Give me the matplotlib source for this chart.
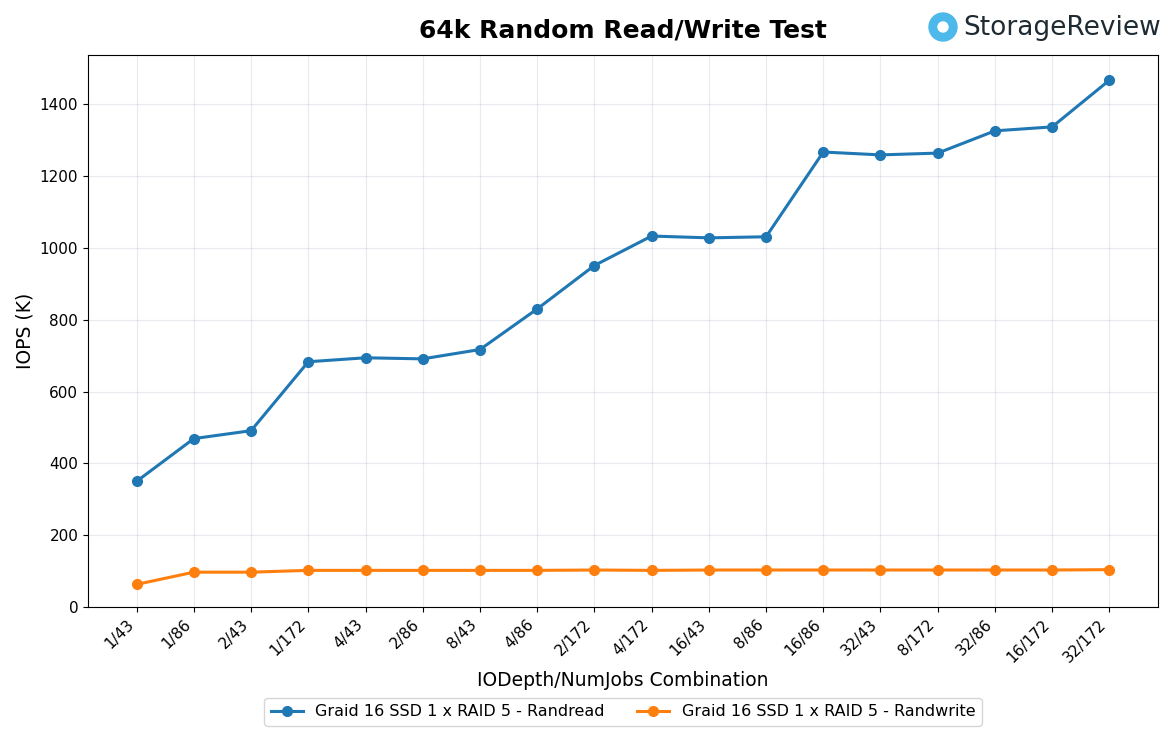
import matplotlib.pyplot as plt
from matplotlib.patches import Circle

combos = ["1/43", "1/86", "2/43", "1/172", "4/43", "2/86", "8/43", "4/86", "2/172",
          "4/172", "16/43", "8/86", "16/86", "32/43", "8/172", "32/86", "16/172", "32/172"]
randread = [350, 469, 491, 683, 694, 691, 717, 830, 951,
            1033, 1028, 1031, 1267, 1259, 1264, 1326, 1337, 1467]
randwrite = [63, 97, 97, 102, 102, 102, 102, 102, 103,
             102, 103, 103, 103, 103, 103, 103, 103, 104]

fig = plt.figure(figsize=(11.7, 7.38), dpi=100)
ax = fig.add_axes([88 / 1170, 1 - 607 / 738, 1070 / 1170, 552 / 738])

x = range(len(combos))
ax.plot(x, randread, marker="o", linewidth=2.2, markersize=7, color="#1f77b4",
        label="Graid 16 SSD 1 x RAID 5 - Randread")
ax.plot(x, randwrite, marker="o", linewidth=2.2, markersize=7, color="#ff7f0e",
        label="Graid 16 SSD 1 x RAID 5 - Randwrite")

ax.set_xticks(list(x))
ax.set_xticklabels(combos, rotation=45, ha="right", fontsize=11)
ax.tick_params(axis="y", labelsize=11)
ax.set_ylim(bottom=0)
ax.grid(True, alpha=0.3, color="#b0bccc")
ax.set_xlabel("IODepth/NumJobs Combination", fontsize=13.5)
ax.set_ylabel("IOPS (K)", fontsize=13.5)
fig.text(623 / 1170, 1 - 30 / 738, "64k Random Read/Write Test", ha="center", va="center",
         fontsize=18, fontweight="bold")

ax.legend(loc="upper center", bbox_to_anchor=(0.5, -0.15), ncol=2, fontsize=11.5,
          frameon=True)

# logo
logo_ax = fig.add_axes([925 / 1170, 1 - 45 / 738, 240 / 1170, 35 / 738])
logo_ax.set_xlim(0, 240)
logo_ax.set_ylim(0, 35)
logo_ax.set_aspect("equal")
logo_ax.axis("off")
logo_ax.add_patch(Circle((18, 18), 14, color="#4db8ea"))
logo_ax.add_patch(Circle((18, 18), 5, color="white"))
logo_ax.text(38, 17, "StorageReview", fontsize=19, color="#1e2b33", va="center")

fig.savefig("out.png", dpi=100)
